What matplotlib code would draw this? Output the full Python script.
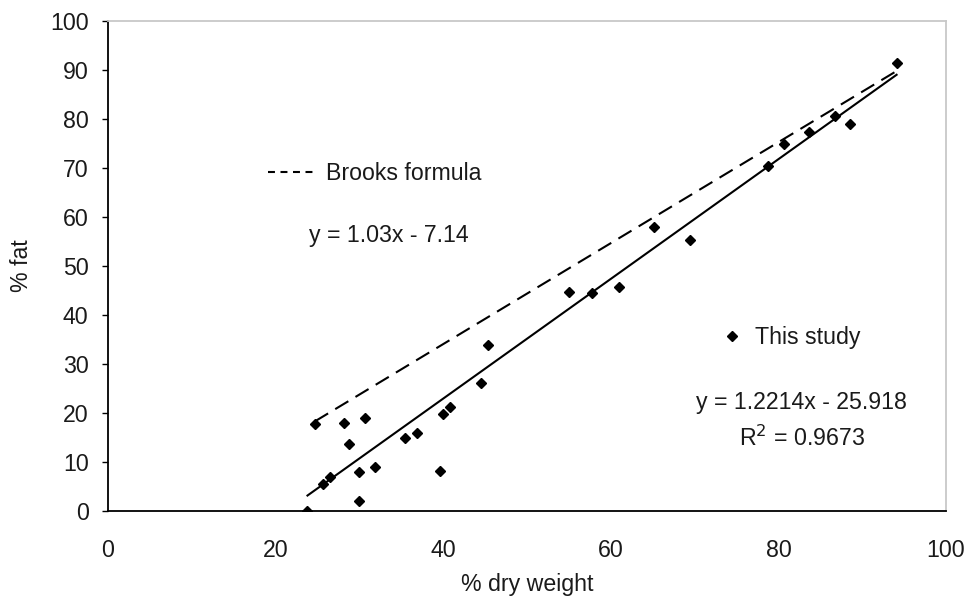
import matplotlib
matplotlib.use("Agg")
import matplotlib.pyplot as plt
from matplotlib.lines import Line2D
import numpy as np

plt.rcParams['font.family'] = ['Liberation Sans', 'DejaVu Sans']
plt.rcParams['lines.scale_dashes'] = False

# data
dry = [23.8, 24.7, 25.6, 26.5, 28.1, 28.8, 29.9, 29.9, 30.7, 31.9, 35.4, 36.9,
       39.6, 40.0, 40.8, 44.5, 45.3, 55.0, 57.8, 61.0, 65.2, 69.5, 78.7, 80.7,
       83.7, 86.8, 88.5, 94.1]
fat = [0.0, 17.8, 5.5, 6.9, 18.0, 13.7, 7.9, 2.1, 19.0, 8.9, 14.8, 15.9,
       8.2, 19.8, 21.2, 26.2, 33.9, 44.6, 44.4, 45.8, 58.0, 55.4, 70.3, 74.8,
       77.4, 80.6, 79.0, 91.5]

fit_slope, fit_icpt = 1.2214, -25.918
brooks_slope, brooks_icpt = 1.03, -7.14

xticks = [0, 20, 40, 60, 80, 100]
yticks = [0, 10, 20, 30, 40, 50, 60, 70, 80, 90, 100]

fs = 16.7
txt = '#1a1a1a'

fig = plt.figure(figsize=(9.68, 5.97), dpi=100)
ax = fig.add_axes([0.1116, 0.1441, 0.8657, 0.8208])

xs = np.array([min(dry), max(dry)])
ax.plot(xs, fit_slope * xs + fit_icpt, color='black', lw=1.5)
xb = np.array([24.7, max(dry)])
ax.plot(xb, brooks_slope * xb + brooks_icpt, color='black', lw=1.5,
        dashes=(11, 6))
ax.plot(dry, fat, linestyle='none', marker='D', markersize=5, color='black')

ax.set_xlim(0, 100)
ax.set_ylim(0, 100)
ax.set_xticks(xticks)
ax.set_yticks(yticks)
ax.tick_params(axis='y', direction='out', length=4, width=1, pad=10,
               labelsize=fs, labelcolor=txt)
ax.tick_params(axis='x', length=0, pad=20, labelsize=fs, labelcolor=txt)

for s in ['left', 'bottom']:
    ax.spines[s].set_color('black')
    ax.spines[s].set_linewidth(1.3)
for s in ['top', 'right']:
    ax.spines[s].set_color('#c8c8c8')
    ax.spines[s].set_linewidth(1.3)

ax.set_xlabel('% dry weight', fontsize=fs, color=txt, labelpad=8)
ax.set_ylabel('% fat', fontsize=fs, color=txt, labelpad=12)

# legend-like keys
h1 = Line2D([], [], color='black', lw=1.5, dashes=(5, 4))
leg1 = ax.legend([h1], ['Brooks formula'], loc='center left',
                 bbox_to_anchor=(0.191, 0.688), frameon=False, fontsize=fs,
                 handlelength=2.0, handletextpad=0.5, borderpad=0,
                 borderaxespad=0, labelcolor=txt)
ax.add_artist(leg1)
h2 = Line2D([], [], linestyle='none', marker='D', markersize=5, color='black')
ax.legend([h2], ['This study'], loc='center left',
          bbox_to_anchor=(0.733, 0.353), frameon=False, fontsize=fs,
          handlelength=0.8, handletextpad=0.6, borderpad=0,
          borderaxespad=0, labelcolor=txt)

ax.text(33.5, 56.3, 'y = 1.03x - 7.14', fontsize=fs, color=txt,
        ha='center', va='center')
ax.text(82.7, 22.2, 'y = 1.2214x - 25.918', fontsize=fs, color=txt,
        ha='center', va='center')
ax.text(82.8, 14.9, 'R$^2$ = 0.9673', fontsize=fs, color=txt,
        ha='center', va='center')

fig.savefig('out.png', dpi=100)
